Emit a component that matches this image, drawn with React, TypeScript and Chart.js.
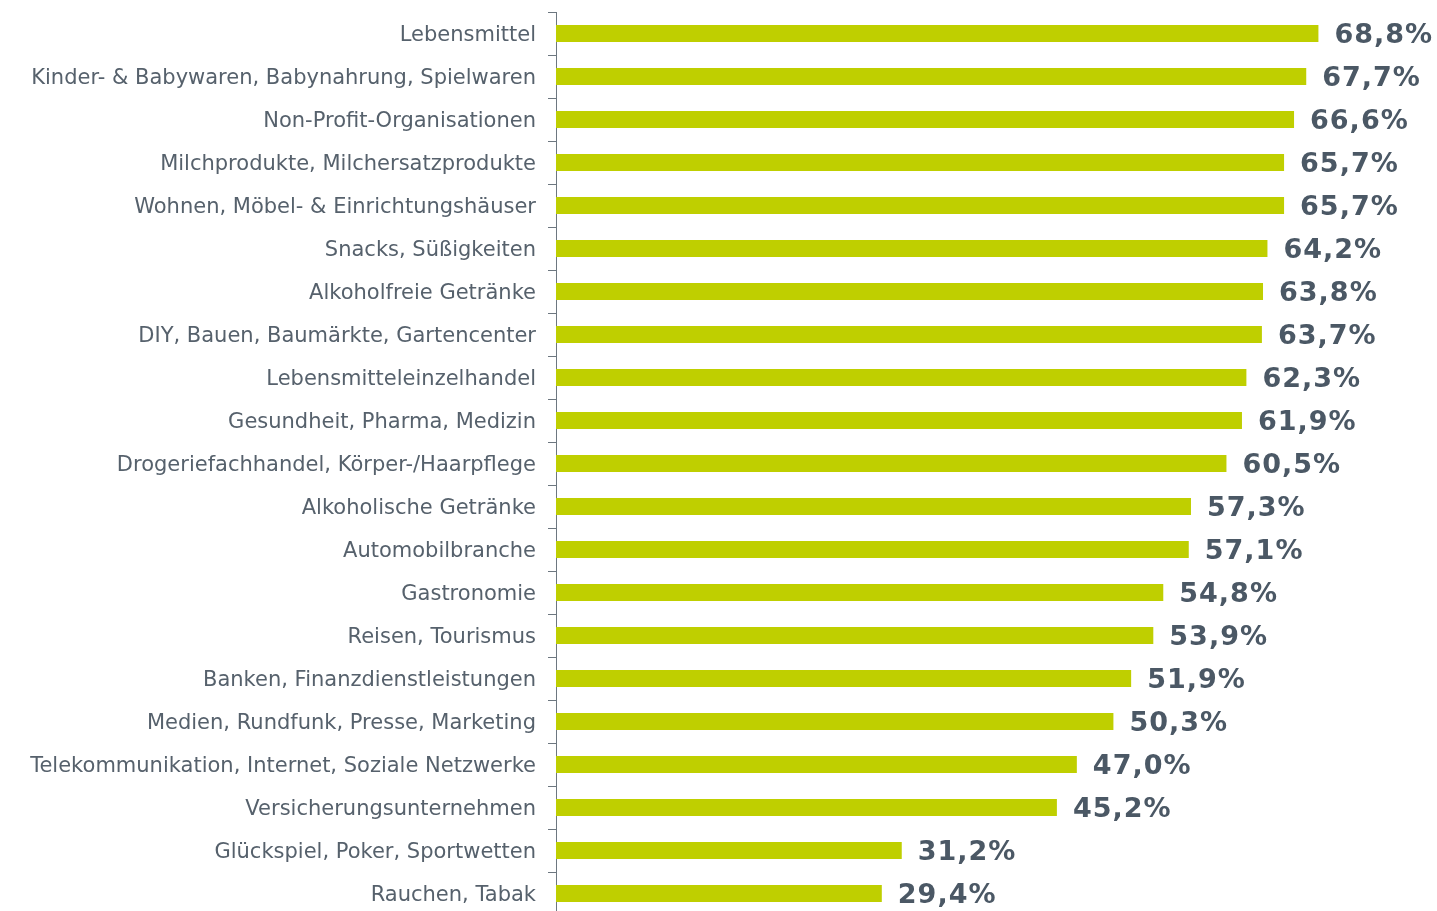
import React, { useEffect, useRef } from "react";
import { Chart, registerables } from "chart.js";

Chart.register(...registerables);

const categories: string[] = [
  "Lebensmittel",
  "Kinder- & Babywaren, Babynahrung, Spielwaren",
  "Non-Profit-Organisationen",
  "Milchprodukte, Milchersatzprodukte",
  "Wohnen, Möbel- & Einrichtungshäuser",
  "Snacks, Süßigkeiten",
  "Alkoholfreie Getränke",
  "DIY, Bauen, Baumärkte, Gartencenter",
  "Lebensmitteleinzelhandel",
  "Gesundheit, Pharma, Medizin",
  "Drogeriefachhandel, Körper-/Haarpflege",
  "Alkoholische Getränke",
  "Automobilbranche",
  "Gastronomie",
  "Reisen, Tourismus",
  "Banken, Finanzdienstleistungen",
  "Medien, Rundfunk, Presse, Marketing",
  "Telekommunikation, Internet, Soziale Netzwerke",
  "Versicherungsunternehmen",
  "Glückspiel, Poker, Sportwetten",
  "Rauchen, Tabak",
];

const values: number[] = [
  68.8, 67.7, 66.6, 65.7, 65.7, 64.2, 63.8, 63.7, 62.3, 61.9, 60.5, 57.3, 57.1,
  54.8, 53.9, 51.9, 50.3, 47.0, 45.2, 31.2, 29.4,
];

const formatValue = (v: number) => v.toFixed(1).replace(".", ",") + "%";

const valueLabelPlugin = {
  id: "valueLabels",
  afterDatasetsDraw(chart: any) {
    const ctx = chart.ctx;
    const meta = chart.getDatasetMeta(0);
    ctx.save();
    ctx.font = "bold 27px 'DejaVu Sans', Verdana, sans-serif";
    try {
      (ctx as any).letterSpacing = "1px";
    } catch (e) {}
    ctx.fillStyle = "#4b5865";
    ctx.textAlign = "left";
    ctx.textBaseline = "middle";
    meta.data.forEach((bar: any, i: number) => {
      ctx.fillText(formatValue(values[i]), bar.x + 16, bar.y + 2);
    });
    ctx.restore();
  },
};

export default function App() {
  const canvasRef = useRef<HTMLCanvasElement | null>(null);

  useEffect(() => {
    if (!canvasRef.current) return;
    const chart = new Chart(canvasRef.current, {
      type: "bar",
      data: {
        labels: categories,
        datasets: [
          {
            data: values,
            backgroundColor: "#bfcf00",
            borderWidth: 0,
            barPercentage: 0.4,
            categoryPercentage: 1,
          },
        ],
      },
      options: {
        indexAxis: "y",
        animation: false,
        responsive: false,
        maintainAspectRatio: false,
        layout: { padding: { top: 12, bottom: 0, left: 0, right: 0 } },
        plugins: {
          legend: { display: false },
          tooltip: { enabled: false },
        },
        scales: {
          x: {
            display: false,
            min: 0,
            max: 79.5,
          },
          y: {
            offset: true,
            afterFit: (scale: any) => {
              scale.width = 556;
              scale.paddingTop = 0;
              scale.paddingBottom = 0;
            },
            grid: {
              display: true,
              offset: true,
              drawOnChartArea: false,
              drawTicks: true,
              tickLength: 8,
              color: "#6d7780",
            },
            border: { display: true, color: "#6d7780", width: 1 },
            ticks: {
              color: "#56616c",
              padding: 12,
              labelOffset: 2,
              font: { family: "'DejaVu Sans', Verdana, sans-serif", size: 21 },
              autoSkip: false,
            },
          },
        },
      },
      plugins: [valueLabelPlugin],
    });
    return () => chart.destroy();
  }, []);

  return (
    <div style={{ position: "fixed", left: 0, top: 0, width: 1437, height: 915, background: "#fff" }}>
      <canvas ref={canvasRef} width={1437} height={915} style={{ width: 1437, height: 915 }} />
    </div>
  );
}
